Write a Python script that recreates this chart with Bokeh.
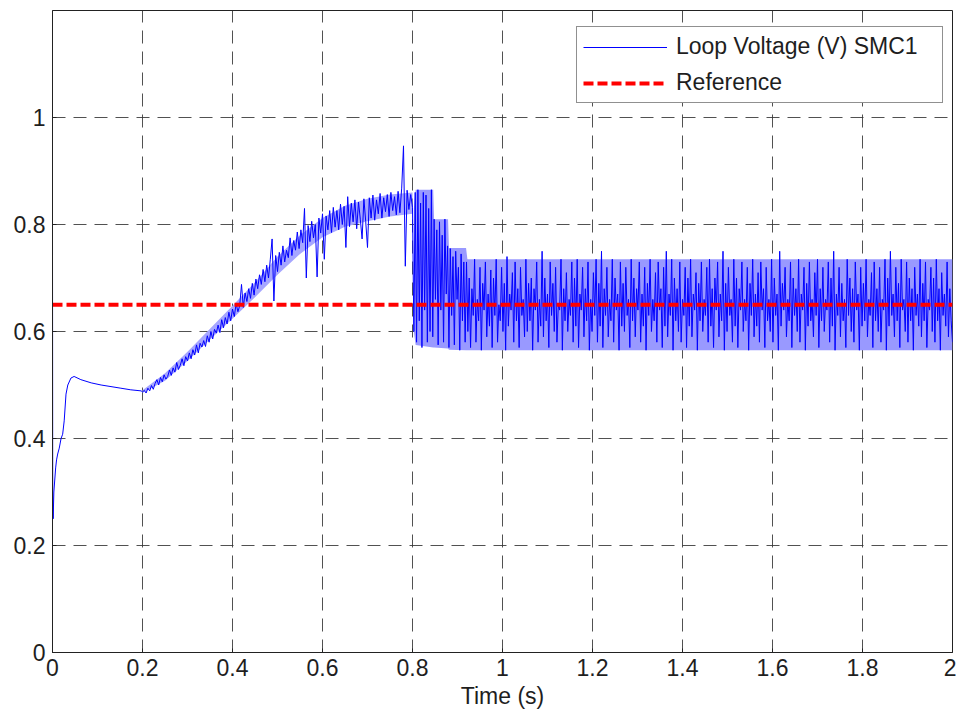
import numpy as np
from bokeh.plotting import figure
from bokeh.models import FixedTicker, Range1d, Legend
from bokeh.embed import file_html
from bokeh.resources import INLINE

# ---------------- data ----------------
# start-up transient (time, value)
t_start = [0.000, 0.0005, 0.0015, 0.003, 0.007, 0.009, 0.0115, 0.015, 0.019, 0.0226,
           0.026, 0.030, 0.034, 0.041, 0.048, 0.063, 0.086, 0.108, 0.130, 0.152, 0.174, 0.197]
v_start = [0.78, 0.30, 0.25, 0.30, 0.345, 0.36, 0.371, 0.382, 0.40, 0.408,
           0.433, 0.483, 0.50, 0.513, 0.516, 0.51, 0.504, 0.50, 0.497, 0.494, 0.491, 0.489]

# noisy ramp, sampled every 4 ms from t = 0.200 s
ramp_t0 = 0.200
ramp_dt = 0.004
v_ramp = [
    0.487, 0.490, 0.485, 0.494, 0.489, 0.499, 0.492, 0.503, 0.510, 0.500,
    0.514, 0.506, 0.519, 0.511, 0.516, 0.528, 0.518, 0.532, 0.524, 0.542,
    0.529, 0.537, 0.549, 0.536, 0.553, 0.545, 0.560, 0.549, 0.566, 0.556,
    0.575, 0.560, 0.578, 0.571, 0.583, 0.572, 0.592, 0.580, 0.600, 0.586,
    0.604, 0.597, 0.612, 0.598, 0.622, 0.607, 0.626, 0.614, 0.636, 0.620,
    0.642, 0.628, 0.652, 0.637, 0.648, 0.688, 0.645, 0.672, 0.656, 0.680,
    0.662, 0.690, 0.668, 0.698, 0.680, 0.706, 0.688, 0.716, 0.693, 0.724,
    0.700, 0.735, 0.773, 0.657, 0.742, 0.712, 0.748, 0.724, 0.760, 0.730,
    0.752, 0.738, 0.775, 0.742, 0.770, 0.752, 0.786, 0.755, 0.790, 0.766,
    0.830, 0.700, 0.798, 0.768, 0.806, 0.775, 0.800, 0.702, 0.812, 0.784,
    0.820, 0.735, 0.816, 0.790, 0.826, 0.785, 0.832, 0.795, 0.826, 0.790,
    0.838, 0.800, 0.834, 0.757, 0.852, 0.796, 0.840, 0.805, 0.846, 0.792,
    0.842, 0.810, 0.773, 0.848, 0.806, 0.757, 0.850, 0.812, 0.855, 0.808,
    0.846, 0.820, 0.858, 0.812, 0.850, 0.824, 0.856, 0.815, 0.860, 0.826,
    0.852, 0.818, 0.862, 0.822, 0.868, 0.947, 0.722, 0.864, 0.828, 0.856,
    0.832,
]

# sliding-mode chattering, sampled every 3 ms from t = 0.803 s
chat_t0 = 0.803
chat_dt = 0.003
v_chat = [
    0.60, 0.86, 0.58, 0.865, 0.62, 0.84, 0.57, 0.86, 0.64, 0.855, 0.58, 0.83, 0.60, 0.865,
    0.59, 0.81, 0.66, 0.79, 0.575, 0.805, 0.64, 0.78, 0.58, 0.81, 0.67, 0.76,
    0.57, 0.755, 0.63, 0.74, 0.575, 0.75, 0.66, 0.72, 0.565, 0.745, 0.62, 0.73, 0.58,
    0.73, 0.60, 0.70, 0.57, 0.68, 0.63, 0.735, 0.58, 0.66, 0.62, 0.72, 0.565, 0.69, 0.64, 0.73, 0.59, 0.67, 0.61, 0.715, 0.57,
    0.70, 0.63, 0.735, 0.58, 0.65, 0.62, 0.72, 0.60, 0.69, 0.565, 0.74, 0.61, 0.67, 0.64, 0.71, 0.58, 0.73, 0.62, 0.68, 0.57,
    0.72, 0.63, 0.66, 0.59, 0.735, 0.60, 0.69, 0.62, 0.70, 0.565, 0.68, 0.64, 0.73, 0.58, 0.66, 0.61, 0.75, 0.59, 0.70, 0.62,
    0.67, 0.57, 0.73, 0.63, 0.69, 0.60, 0.72, 0.58, 0.65, 0.64, 0.735, 0.565, 0.68, 0.62, 0.71, 0.60, 0.66, 0.63, 0.73, 0.58,
    0.70, 0.61, 0.735, 0.57, 0.67, 0.64, 0.72, 0.59, 0.68, 0.62, 0.73, 0.565, 0.66, 0.60, 0.71, 0.63, 0.735, 0.58, 0.69, 0.61,
    0.75, 0.57, 0.68, 0.63, 0.72, 0.59, 0.66, 0.62, 0.735, 0.58, 0.70, 0.64, 0.67, 0.565, 0.73, 0.61, 0.69, 0.60, 0.72, 0.63,
    0.66, 0.57, 0.735, 0.62, 0.70, 0.59, 0.68, 0.64, 0.73, 0.58, 0.67, 0.61, 0.72, 0.565, 0.69, 0.63, 0.735, 0.60, 0.66, 0.62,
    0.71, 0.58, 0.73, 0.64, 0.68, 0.57, 0.72, 0.61, 0.75, 0.59, 0.67, 0.63, 0.735, 0.565, 0.70, 0.62, 0.68, 0.60, 0.73, 0.58,
    0.66, 0.63, 0.72, 0.57, 0.70, 0.61, 0.735, 0.59, 0.67, 0.64, 0.71, 0.565, 0.69, 0.62, 0.73, 0.60, 0.66, 0.63, 0.72, 0.58,
    0.735, 0.61, 0.68, 0.57, 0.70, 0.64, 0.73, 0.59, 0.67, 0.62, 0.75, 0.565, 0.69, 0.60, 0.72, 0.63, 0.66, 0.58, 0.735, 0.61,
    0.70, 0.57, 0.68, 0.64, 0.73, 0.60, 0.66, 0.62, 0.72, 0.565, 0.69, 0.63, 0.735, 0.59, 0.67, 0.61, 0.71, 0.58, 0.73, 0.64,
    0.68, 0.57, 0.72, 0.62, 0.66, 0.60, 0.735, 0.58, 0.70, 0.63, 0.67, 0.565, 0.75, 0.61, 0.69, 0.64, 0.72, 0.59, 0.66, 0.62,
    0.73, 0.57, 0.70, 0.63, 0.68, 0.60, 0.735, 0.58, 0.67, 0.64, 0.72, 0.565, 0.69, 0.61, 0.73, 0.62, 0.66, 0.59, 0.71, 0.63,
    0.735, 0.57, 0.68, 0.62, 0.72, 0.60, 0.66, 0.64, 0.73, 0.58, 0.70, 0.61, 0.75, 0.565, 0.67, 0.63, 0.72, 0.59, 0.69, 0.62,
    0.66, 0.57, 0.735, 0.63, 0.70, 0.60, 0.68, 0.58, 0.73, 0.64, 0.67, 0.565, 0.72, 0.61, 0.69, 0.62, 0.735, 0.59, 0.66, 0.63,
    0.71, 0.57, 0.73, 0.62, 0.68, 0.60, 0.72, 0.58, 0.66, 0.64, 0.735, 0.565, 0.70, 0.61, 0.75, 0.63, 0.67, 0.59, 0.72, 0.62,
    0.69, 0.57, 0.735, 0.64, 0.66, 0.60, 0.73, 0.58, 0.70, 0.62, 0.68, 0.565, 0.72, 0.63, 0.67, 0.61, 0.735, 0.59, 0.69, 0.62,
    0.73, 0.57, 0.66, 0.64, 0.72, 0.60, 0.70, 0.58, 0.735, 0.62, 0.68, 0.565, 0.71, 0.63, 0.67, 0.61, 0.73, 0.59, 0.68, 0.62,
    0.58,
]

# envelope of the noisy ramp (time, lower, upper)
ramp_env_t = [0.2, 0.25, 0.3, 0.35, 0.4, 0.45, 0.5, 0.55, 0.6, 0.65, 0.7, 0.75, 0.8]
ramp_env_lo = [0.485, 0.508, 0.545, 0.585, 0.624, 0.664, 0.706, 0.745, 0.776, 0.796, 0.806, 0.815, 0.82]
ramp_env_hi = [0.490, 0.522, 0.562, 0.605, 0.648, 0.692, 0.740, 0.780, 0.812, 0.835, 0.848, 0.856, 0.86]

# envelope of the chattering band (time, lower, upper)
env_t = [0.803, 0.807, 0.846, 0.848, 0.879, 0.881, 0.919, 0.922, 2.0]
env_lo = [0.60, 0.575, 0.57, 0.57, 0.568, 0.566, 0.565, 0.565, 0.565]
env_hi = [0.83, 0.865, 0.865, 0.81, 0.81, 0.756, 0.756, 0.735, 0.735]

ref_t = [0.0, 2.0]
ref_v = [0.65, 0.65]

x_ticks = [0, 0.2, 0.4, 0.6, 0.8, 1, 1.2, 1.4, 1.6, 1.8, 2]
x_labels = ["0", "0.2", "0.4", "0.6", "0.8", "1", "1.2", "1.4", "1.6", "1.8", "2"]
y_ticks = [0, 0.2, 0.4, 0.6, 0.8, 1]
y_labels = ["0", "0.2", "0.4", "0.6", "0.8", "1"]

series_label = "Loop Voltage (V) SMC1"
ref_label = "Reference"
x_title = "Time (s)"

# ---------------- assemble series ----------------
t_ramp = ramp_t0 + ramp_dt * np.arange(len(v_ramp))
t_chat = chat_t0 + chat_dt * np.arange(len(v_chat))
t_all = np.concatenate([t_start, t_ramp, t_chat])
v_all = np.concatenate([v_start, v_ramp, v_chat])

FONT = "Liberation Sans"
TXT = "#1e1e1e"

p = figure(width=956, height=716, output_backend="svg", toolbar_location=None,
           x_range=Range1d(0, 2), y_range=Range1d(0, 1.2),
           min_border_left=52, min_border_right=4, min_border_top=10, min_border_bottom=64,
           background_fill_color="white", border_fill_color="white")
p.outline_line_color = "#222222"
p.outline_line_width = 1

# grid
p.xgrid.ticker = FixedTicker(ticks=x_ticks)
p.ygrid.ticker = FixedTicker(ticks=y_ticks)
for g in (p.xgrid, p.ygrid):
    g.grid_line_color = "#333333"
    g.grid_line_dash = "13 8"
    g.grid_line_width = 1
    g.grid_line_alpha = 0.85

# axes
xa = p.xaxis[0]
ya = p.yaxis[0]
xa.ticker = FixedTicker(ticks=x_ticks)
ya.ticker = FixedTicker(ticks=y_ticks)
xa.major_label_overrides = {k: l for k, l in zip(x_ticks, x_labels)}
ya.major_label_overrides = {k: l for k, l in zip(y_ticks, y_labels)}
xa.axis_label = x_title
for ax in (xa, ya):
    ax.major_label_text_font = FONT
    ax.major_label_text_font_size = "23px"
    ax.major_label_text_color = TXT
    ax.axis_label_text_font = FONT
    ax.axis_label_text_font_size = "23px"
    ax.axis_label_text_font_style = "normal"
    ax.axis_label_text_color = TXT
    ax.axis_line_color = "#222222"
    ax.major_tick_in = 4
    ax.major_tick_out = 0
    ax.major_tick_line_color = "#222222"
    ax.minor_tick_line_color = None
xa.major_label_standoff = 6
xa.axis_label_standoff = 4
ya.major_label_standoff = 7

# data
p.varea(x=ramp_env_t, y1=ramp_env_lo, y2=ramp_env_hi, fill_color="#a6a6ff", fill_alpha=1.0)
p.varea(x=env_t, y1=env_lo, y2=env_hi, fill_color="#9999ff", fill_alpha=1.0)
r_sig = p.line(t_all, v_all, line_color="#0000ff", line_width=1)
r_ref = p.line(ref_t, ref_v, line_color="#ff0000", line_width=4, line_dash="10 4")

legend = Legend(items=[(series_label, [r_sig]), (ref_label, [r_ref])],
                location=(524, 549), margin=0, padding=6, spacing=9,
                glyph_width=84, glyph_height=26, label_height=26, label_width=260,
                label_standoff=9,
                label_text_font=FONT, label_text_font_size="23px", label_text_color=TXT,
                border_line_color="#222222", border_line_width=1,
                background_fill_color="white", background_fill_alpha=1.0)
p.add_layout(legend, "center")

open("out.html", "w").write(file_html(p, INLINE))
